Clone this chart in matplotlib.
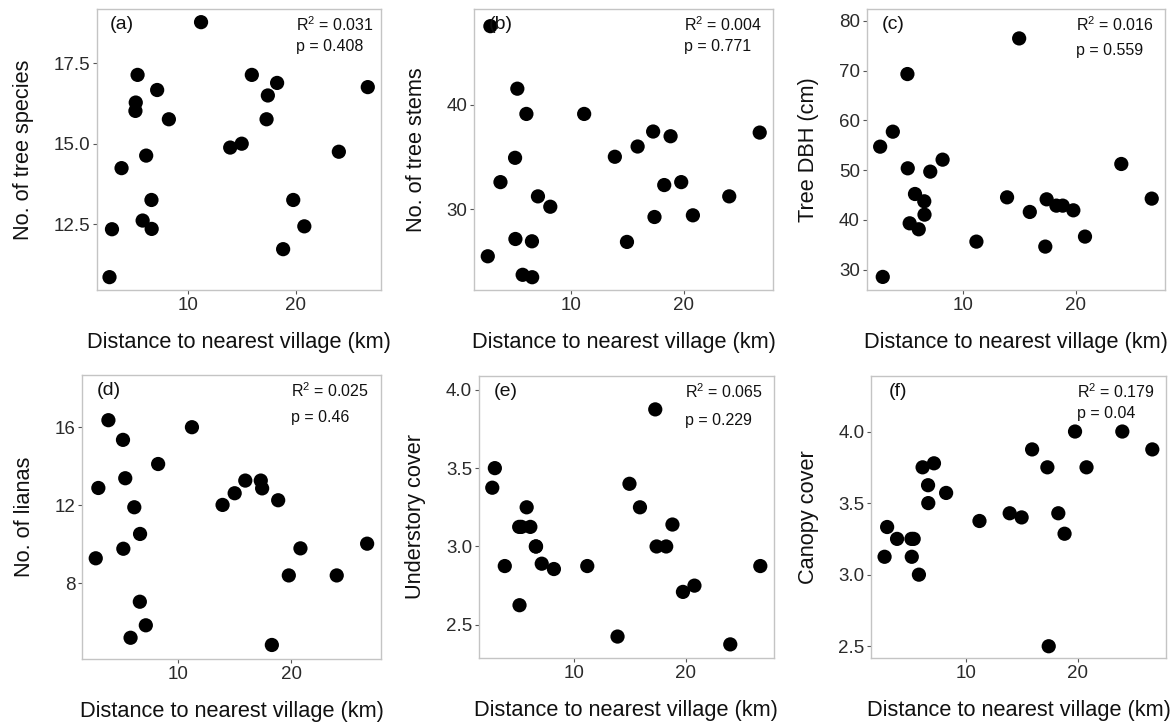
import matplotlib
matplotlib.use("Agg")
import matplotlib.pyplot as plt

plt.rcParams['font.family'] = ['Liberation Sans', 'DejaVu Sans']
plt.rcParams['mathtext.default'] = 'regular'

# distance of each site to the nearest village (km)
distance = [2.69, 2.92, 3.81, 5.10, 5.13, 5.30, 5.77, 6.10, 6.59, 6.61, 7.12, 8.21,
            11.20, 13.91, 14.98, 15.92, 17.29, 17.41, 18.27, 18.83, 19.77, 20.80, 24.01, 26.70]

tree_species = [10.85, 12.34, 14.24, 16.02, 16.28, 17.14, 12.61, 14.63, 13.25, 12.35, 16.67, 15.76,
                18.78, 14.88, 15.00, 17.14, 15.76, 16.50, 16.89, 11.72, 13.25, 12.43, 14.75, 16.76]
tree_stems = [25.52, 47.49, 32.60, 34.92, 27.17, 41.52, 23.75, 39.11, 26.95, 23.52, 31.24, 30.25,
              39.11, 35.02, 26.89, 36.00, 37.43, 29.27, 32.32, 36.98, 32.60, 29.43, 31.24, 37.33]
tree_dbh = [54.70, 28.53, 57.71, 69.29, 50.35, 39.30, 45.19, 38.10, 43.72, 41.04, 49.68, 52.09,
            35.62, 44.52, 76.45, 41.58, 34.62, 44.12, 42.85, 42.85, 41.91, 36.63, 51.22, 44.26]
lianas = [9.27, 12.88, 16.36, 15.35, 9.76, 13.38, 5.19, 11.89, 7.04, 10.52, 5.83, 14.11,
          16.00, 12.01, 12.61, 13.26, 13.26, 12.86, 4.82, 12.25, 8.39, 9.78, 8.39, 10.02]
understory = [3.375, 3.500, 2.875, 3.125, 2.625, 3.125, 3.250, 3.125, 3.000, 3.000, 2.890, 2.856,
              2.875, 2.425, 3.400, 3.250, 3.875, 3.000, 3.000, 3.140, 2.710, 2.750, 2.375, 2.875]
canopy = [3.125, 3.333, 3.250, 3.250, 3.125, 3.250, 3.000, 3.750, 3.625, 3.500, 3.778, 3.571,
          3.375, 3.429, 3.400, 3.875, 3.750, 2.500, 3.429, 3.286, 4.000, 3.750, 4.000, 3.875]

ylabels = ["No. of tree species", "No. of tree stems", "Tree DBH (cm)",
           "No. of lianas", "Understory cover", "Canopy cover"]
panel_tags = ["(a)", "(b)", "(c)", "(d)", "(e)", "(f)"]
r2_values = ["0.031", "0.004", "0.016", "0.025", "0.065", "0.179"]
p_values = ["0.408", "0.771", "0.559", "0.46", "0.229", "0.04"]
yticks = [[12.5, 15.0, 17.5], [30, 40], [30, 40, 50, 60, 70, 80],
          [8, 12, 16], [2.5, 3.0, 3.5, 4.0], [2.5, 3.0, 3.5, 4.0]]
ytick_fmt = ["{:.1f}", "{:.0f}", "{:.0f}", "{:.0f}", "{:.1f}", "{:.1f}"]
ylims = [(10.45, 19.18), (22.3, 49.1), (25.9, 82.3), (4.1, 18.68), (2.29, 4.09), (2.42, 4.39)]
xlim = (1.5, 27.9)

series = [tree_species, tree_stems, tree_dbh, lianas, understory, canopy]

# axes boxes in pixels: left, right, top, bottom
W, H = 1176, 727
boxes = [(96.7, 380.7, 9.3, 290), (474.3, 773.3, 9.3, 290), (866.7, 1165.3, 9.3, 290),
         (82.3, 380.7, 375, 659), (479, 773.7, 375.7, 657.7), (871.3, 1165.7, 375.7, 657.7)]
p_y = [0.867, 0.866, 0.852, 0.851, 0.84, 0.867]

fig = plt.figure(figsize=(W / 100, H / 100), dpi=100)

for i in range(6):
    l, r, t, b = boxes[i]
    ax = fig.add_axes([l / W, 1 - b / H, (r - l) / W, (b - t) / H])
    ax.scatter(distance, series[i], s=105, color='black', edgecolors='none', zorder=3)
    ax.set_xlim(xlim)
    ax.set_ylim(ylims[i])
    ax.set_xticks([10, 20])
    ax.set_yticks(yticks[i])
    ax.set_yticklabels([ytick_fmt[i].format(v) for v in yticks[i]])
    for s in ax.spines.values():
        s.set_color('#c4c4c4')
        s.set_linewidth(1.0)
    ax.tick_params(length=3, width=0.8, color='#555555', labelsize=13.5,
                   labelcolor='#2a2a2a', pad=2)
    ax.set_xlabel("Distance to nearest village (km)", fontsize=15.7, labelpad=13, color='#111111')
    ax.set_ylabel(ylabels[i], fontsize=15.7, labelpad=14, color='#111111')
    ax.text(0.09, 0.945, panel_tags[i], transform=ax.transAxes, ha='center', va='center',
            fontsize=14, color='#111111')
    ax.text(0.70, 0.945, "R$^2$ = " + r2_values[i], transform=ax.transAxes, ha='left',
            va='center', fontsize=11.5, color='#111111')
    ax.text(0.70, p_y[i], "p = " + p_values[i], transform=ax.transAxes, ha='left',
            va='center', fontsize=11.5, color='#111111')

fig.savefig("out.png", dpi=100)
